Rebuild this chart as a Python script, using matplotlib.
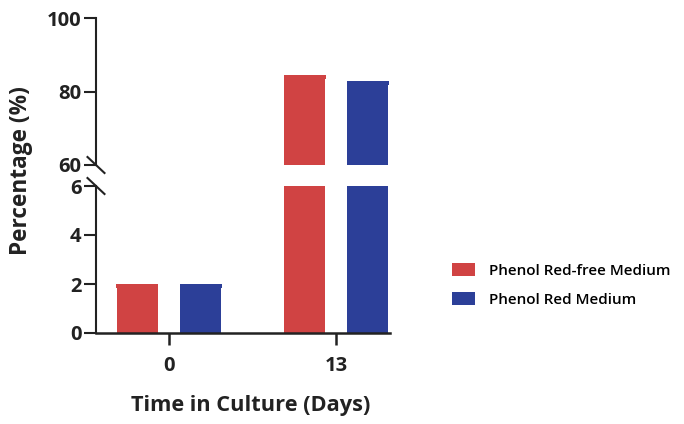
import matplotlib
matplotlib.use("Agg")
import matplotlib.pyplot as plt
import numpy as np
from matplotlib.patches import Patch

plt.rcParams['font.family'] = ['Open Sans', 'DejaVu Sans']
plt.rcParams['font.weight'] = 'bold'

days = ["0", "13"]
series_names = ["Phenol Red-free Medium", "Phenol Red Medium"]
red_free = [1.9, 83.9]
red_med = [1.9, 82.4]
sd_red_free = [0.0, 0.0]
sd_red_med = [0.0, 0.0]
colors = ["#D04343", "#2C3F98"]
low_ticks = [0, 2, 4, 6]
high_ticks = [60, 80, 100]

W, H = 684, 424
fig = plt.figure(figsize=(W/100, H/100), dpi=100)
left = 96/W
width = 294/W
ax_hi = fig.add_axes([left, 1-165/H, width, 147/H])
ax_lo = fig.add_axes([left, 1-333/H, width, 147/H])

x = np.arange(len(days))
bw = 0.2455
off = 0.1886
capsize_pt = 41/2*0.72 + 0.5
ink = '#222222'

for ax in (ax_hi, ax_lo):
    for vals, sds, c, o in ((red_free, sd_red_free, colors[0], -off), (red_med, sd_red_med, colors[1], off)):
        ax.bar(x + o, vals, width=bw, color=c, zorder=2)
        ax.errorbar(x + o, vals, yerr=sds, fmt='none', ecolor=c, elinewidth=2,
                    capsize=capsize_pt, capthick=2.8, zorder=3)
    ax.set_xlim(-0.437, 1.323)
    for s in ('top', 'right'):
        ax.spines[s].set_visible(False)
    ax.spines['left'].set_linewidth(1.5)
    ax.spines['left'].set_color(ink)
    ax.tick_params(axis='y', length=9, width=1.5, color=ink, labelsize=14.5, pad=1.5,
                   labelcolor=ink)

ax_hi.set_ylim(60, 100)
ax_hi.set_yticks(high_ticks)
ax_hi.spines['bottom'].set_visible(False)
ax_hi.set_xticks([])

ax_lo.set_ylim(0, 6)
ax_lo.set_yticks(low_ticks)
ax_lo.spines['bottom'].set_linewidth(1.8)
ax_lo.spines['bottom'].set_color(ink)
ax_lo.set_xticks(x)
ax_lo.set_xticklabels(days)
ax_lo.tick_params(axis='x', length=8.5, width=1.8, color=ink, labelsize=14.5, pad=8,
                  labelcolor=ink)

fig.text(251/W, 1-406/H, "Time in Culture (Days)", fontsize=15.7, fontweight='bold',
         ha='center', va='center', color=ink)
fig.text(21/W, 1-171/H, "Percentage (%)", rotation=90, fontsize=16.3, fontweight='bold',
         ha='center', va='center', color=ink)

# break marks
dx, dy = 8.5/294, 8/147
kw = dict(color=ink, lw=1.5, clip_on=False)
ax_hi.plot([-dx, dx], [dy, -dy], transform=ax_hi.transAxes, **kw)
ax_lo.plot([-dx, dx], [1+dy, 1-dy], transform=ax_lo.transAxes, **kw)

handles = [Patch(facecolor=c, edgecolor='none') for c in colors]
fs = 11
fpx = fs*100/72
fig.legend(handles, series_names, loc='upper left', bbox_to_anchor=(452/W, 1-263/H),
           frameon=False, handlelength=23/fpx, handleheight=13.5/fpx,
           handletextpad=14/fpx, labelspacing=0.95, borderpad=0, borderaxespad=0,
           prop={'weight': 'semibold', 'size': fs})

fig.savefig("out.png", dpi=100)
